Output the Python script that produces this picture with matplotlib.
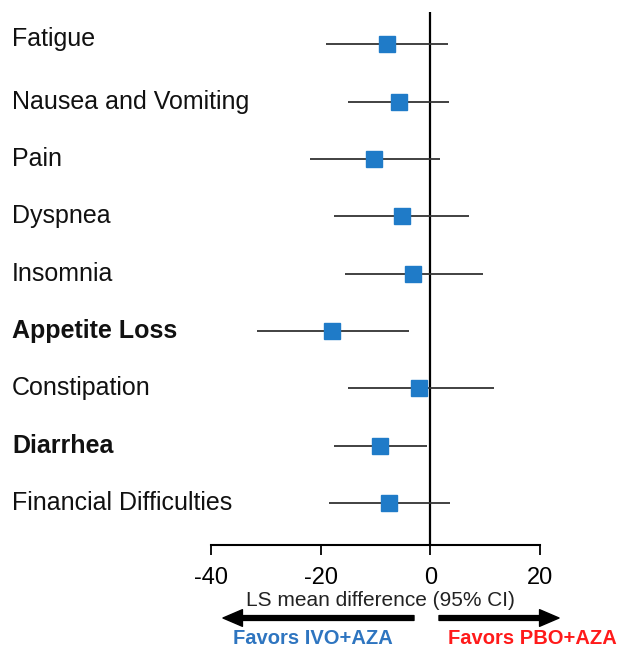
import matplotlib
matplotlib.use("Agg")
import matplotlib.pyplot as plt
import matplotlib.transforms as mtransforms

plt.rcParams['font.family'] = ['Liberation Sans', 'DejaVu Sans']

# QLQ-C30 symptom scales, LS mean difference (95% CI)
labels = ['Fatigue', 'Nausea and Vomiting', 'Pain', 'Dyspnea', 'Insomnia',
          'Appetite Loss', 'Constipation', 'Diarrhea', 'Financial Difficulties']
bold_labels = ['Appetite Loss', 'Diarrhea']
means = [-8.0, -5.8, -10.2, -5.2, -3.2, -17.9, -2.1, -9.1, -7.5]
ci_low = [-19.1, -15.0, -22.0, -17.5, -15.6, -31.6, -15.1, -17.5, -18.5]
ci_high = [3.2, 3.4, 1.7, 7.1, 9.6, -3.9, 11.6, -0.6, 3.5]
xticks = [-40, -20, 0, 20]

fig = plt.figure(figsize=(6.19, 6.49), dpi=100)
ax = fig.add_axes([0.341, 0.1602, 0.5314, 0.8213])

ypos = list(range(len(labels)))
ax.hlines(ypos, ci_low, ci_high, color='#333333', lw=1.3, zorder=2)
ax.plot(means, ypos, 's', color='#1f7bc8', markersize=11.5, zorder=3)
ax.axvline(0, color='black', lw=1.6, zorder=1)

ax.set_xlim(-40, 20)
ax.set_ylim(len(labels) - 1 + 0.73, -0.56)
ax.set_xticks(xticks)
ax.set_xticklabels([str(t) for t in xticks], fontsize=17)
ax.tick_params(axis='x', direction='out', length=7, width=1.3, pad=9)
ax.set_yticks([])
for side in ['left', 'top', 'right']:
    ax.spines[side].set_visible(False)
ax.spines['bottom'].set_linewidth(1.5)

# row labels (first one sits a little higher in the original)
trans = mtransforms.blended_transform_factory(fig.transFigure, ax.transData)
for y, lab in zip(ypos, labels):
    dy = -0.09 if y == 0 else 0
    ax.text(12 / 619, y + dy, lab, transform=trans, ha='left', va='center',
            fontsize=18, fontweight='bold' if lab in bold_labels else 'normal',
            color='#111111', clip_on=False)

fig.text(380 / 619, 1 - 601 / 649, 'LS mean difference (95% CI)', ha='center',
         va='center', fontsize=15, color='#222222')

# direction arrows
arrow_kw = dict(width=3.5, headwidth=12, headlength=14, color='black', shrink=0)
ax.annotate('', xy=(223 / 619, 1 - 618 / 649), xytext=(414 / 619, 1 - 618 / 649),
            xycoords='figure fraction', textcoords='figure fraction',
            arrowprops=arrow_kw, annotation_clip=False)
ax.annotate('', xy=(559 / 619, 1 - 618 / 649), xytext=(439 / 619, 1 - 618 / 649),
            xycoords='figure fraction', textcoords='figure fraction',
            arrowprops=arrow_kw, annotation_clip=False)

fig.text(313 / 619, 1 - 638 / 649, 'Favors IVO+AZA', ha='center', va='center',
         fontsize=14.5, fontweight='bold', color='#2e75c0')
fig.text(532 / 619, 1 - 638 / 649, 'Favors PBO+AZA', ha='center', va='center',
         fontsize=14.5, fontweight='bold', color='#ff1a1a')

fig.savefig('out.png', dpi=100)
